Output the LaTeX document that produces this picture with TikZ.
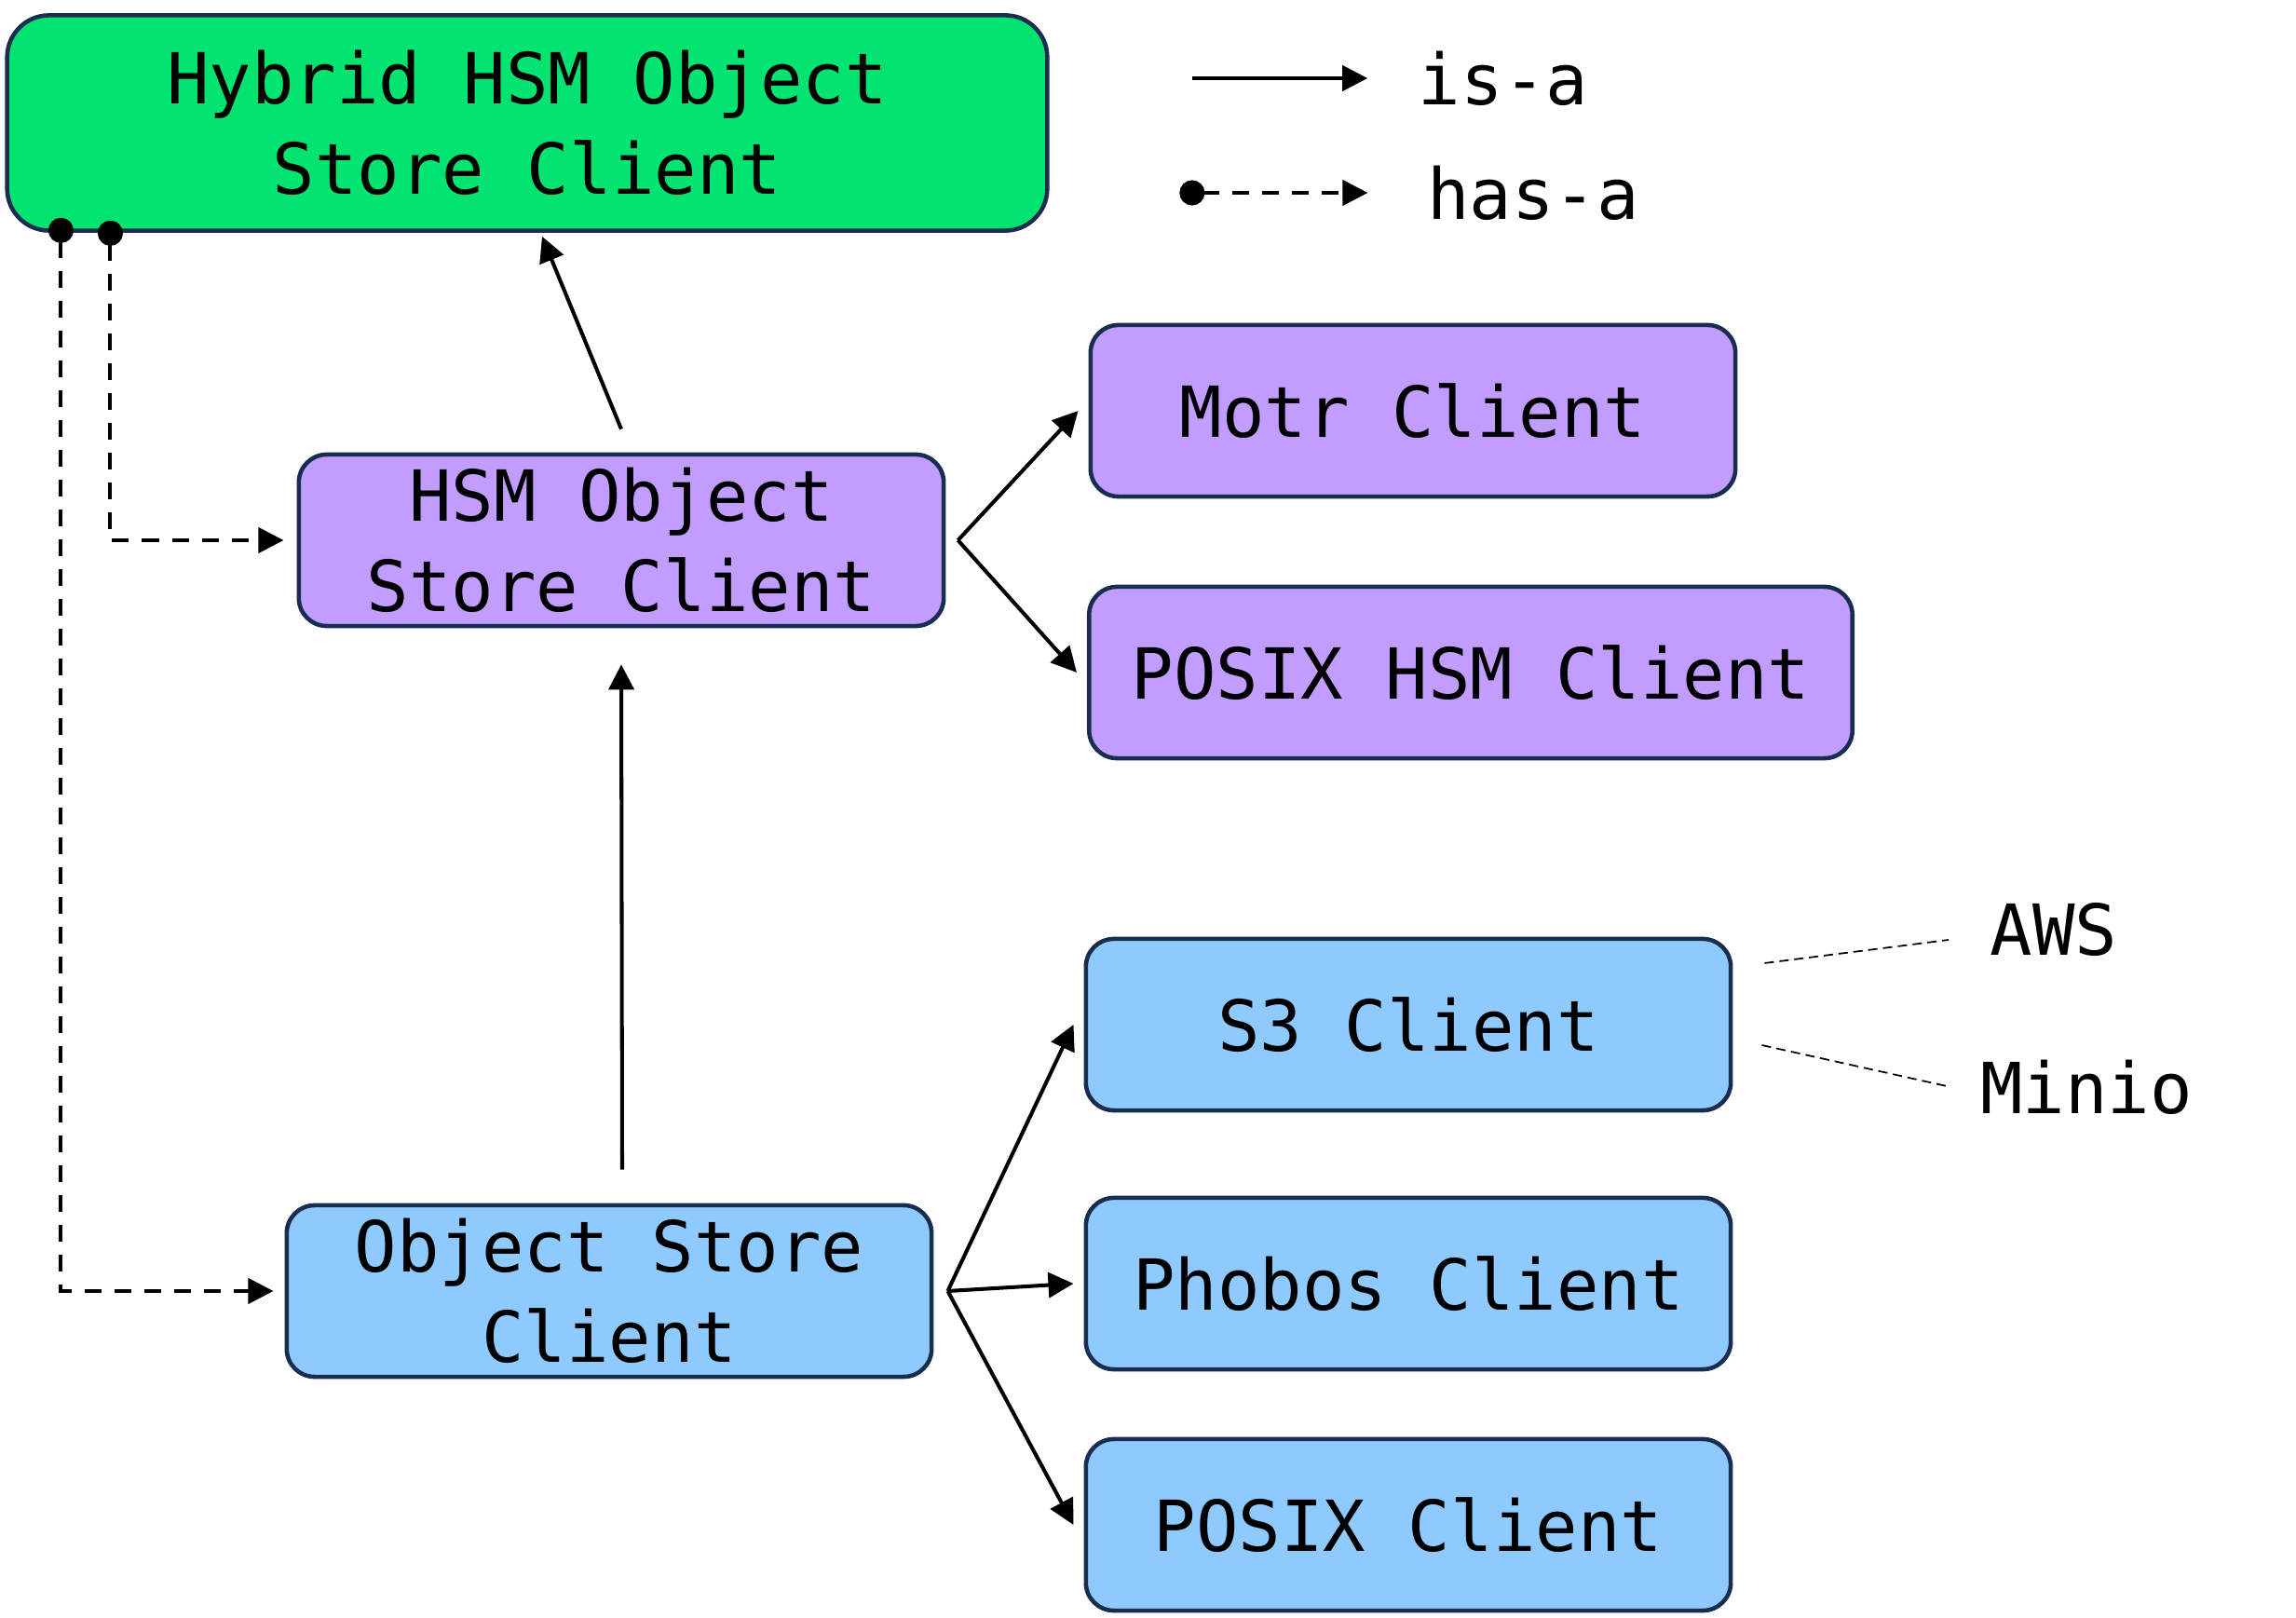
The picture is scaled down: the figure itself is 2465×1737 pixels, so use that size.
\documentclass[tikz,border=0pt]{standalone}
\usepackage{fontspec}
\setmonofont{DejaVu Sans Mono}
\usetikzlibrary{arrows.meta,positioning}

\definecolor{hybridgreen}{RGB}{2,227,111}
\definecolor{hsmpurple}{RGB}{193,157,255}
\definecolor{objblue}{RGB}{143,202,255}
\definecolor{boxline}{RGB}{25,45,80}

\begin{document}
\begin{tikzpicture}[x=0.01cm,y=-0.01cm,font=\ttfamily\fontsize{21.5}{27.7}\selectfont]
      \tikzstyle{client}=[rectangle,rounded corners=0.3cm,draw=boxline,line width=1.3pt,align=center,inner sep=0pt,minimum width=6.92cm,minimum height=1.84cm]
      \tikzstyle{hsm}=[client,fill=hsmpurple]
      \tikzstyle{obj}=[client,fill=objblue]
      \tikzstyle{lbl}=[inner sep=0pt]
      \tikzstyle{isa}=[-{Triangle[length=0.27cm,width=0.27cm]},line width=1.15pt]
      \tikzstyle{hasa}=[{Circle[length=0.27cm]}-{Triangle[length=0.27cm,width=0.27cm]},line width=1.15pt,dash pattern=on 0.18cm off 0.14cm]
      \tikzstyle{vendor}=[line width=0.5pt,dash pattern=on 0.1cm off 0.06cm]

      \useasboundingbox (0,0) rectangle (2465,1737);

      \node[client,fill=hybridgreen,rounded corners=0.45cm,minimum width=11.16cm,minimum height=2.31cm](hybrid) at (566,132){Hybrid HSM Object\\Store Client};

      \node[hsm](hsmobj) at (667,580){HSM Object\\Store Client};
      \node[hsm](motr) at (1517,441){Motr Client};
      \node[hsm,minimum width=8.19cm](posixhsm) at (1579,722){POSIX HSM Client};

      \node[obj](objstore) at (654,1386){Object Store\\Client};
      \node[obj](s3) at (1512,1100){S3 Client};
      \node[obj](phobos) at (1512,1378){Phobos Client};
      \node[obj](posix) at (1512,1637){POSIX Client};

      \node[lbl](aws) at (2205,998){AWS};
      \node[lbl](minio) at (2240,1167){Minio};

      \node[lbl](isalbl) at (1614,84){is-a};
      \node[lbl](hasalbl) at (1646,207){has-a};

      \coordinate (hsmfork) at ([xshift=0.13cm]hsmobj.east);
      \coordinate (objfork) at ([xshift=0.15cm]objstore.east);

      \path[isa]
      ([yshift=0.25cm]hsmobj.north) edge ([shift={(0.16cm,-0.04cm)}]hybrid.south)
      ([shift={(0.14cm,0.36cm)}]objstore.north) edge ([yshift=-0.39cm]hsmobj.south)
      (hsmfork) edge ([xshift=-0.11cm]motr.west)
      (hsmfork) edge ([xshift=-0.11cm]posixhsm.west)
      (objfork) edge ([xshift=-0.11cm]s3.west)
      (objfork) edge ([xshift=-0.11cm]phobos.west)
      (objfork) edge ([xshift=-0.11cm]posix.west);

      \draw[hasa] ([shift={(0.6cm,0.16cm)}]hybrid.south west) |- ([xshift=-0.12cm]objstore.west);
      \draw[hasa] ([shift={(1.13cm,0.13cm)}]hybrid.south west) |- ([xshift=-0.14cm]hsmobj.west);

      \draw[vendor] ([shift={(0.34cm,0.66cm)}]s3.east) -- ([shift={(-0.44cm,-0.11cm)}]aws.west);
      \draw[vendor] ([shift={(0.31cm,-0.22cm)}]s3.east) -- ([xshift=-0.31cm]minio.west);

      \draw[isa] ([xshift=-2.42cm]isalbl.west) -- ([xshift=-0.54cm]isalbl.west);
      \draw[hasa] ([xshift=-2.65cm]hasalbl.west) -- ([xshift=-0.63cm]hasalbl.west);
\end{tikzpicture}
\end{document}
